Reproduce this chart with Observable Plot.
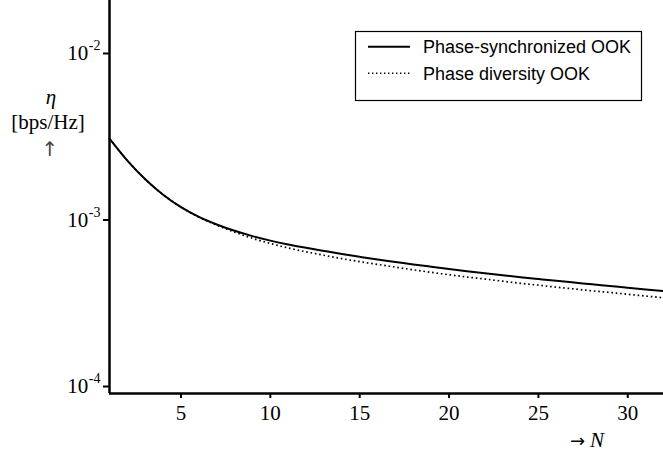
<!DOCTYPE html>
<html>
<head>
<meta charset="utf-8">
<script src="https://cdn.jsdelivr.net/npm/d3@7"></script>
<script src="https://cdn.jsdelivr.net/npm/@observablehq/plot@0.6"></script>
<style>
  html, body { margin: 0; padding: 0; background: #fff; }
  #chart svg { display: block; }
</style>
</head>
<body>
<div id="chart"></div>
<script>
// ---- data ----
const N = [1,2,3,4,5,6,7,8,9,10,11,12,13,14,15,16,17,18,19,20,21,22,23,24,25,26,27,28,29,30,31,32];
const phaseSync = [3.083e-3,2.275e-3,1.758e-3,1.419e-3,1.194e-3,1.045e-3,9.40e-4,8.61e-4,8.00e-4,7.52e-4,
  7.13e-4,6.81e-4,6.52e-4,6.25e-4,6.01e-4,5.79e-4,5.60e-4,5.41e-4,5.24e-4,5.08e-4,
  4.93e-4,4.79e-4,4.66e-4,4.535e-4,4.42e-4,4.31e-4,4.21e-4,4.11e-4,4.015e-4,3.92e-4,3.83e-4,3.745e-4];
const phaseDiv = [3.083e-3,2.275e-3,1.758e-3,1.419e-3,1.194e-3,1.042e-3,9.31e-4,8.45e-4,7.76e-4,7.23e-4,
  6.79e-4,6.44e-4,6.14e-4,5.86e-4,5.62e-4,5.41e-4,5.21e-4,5.02e-4,4.85e-4,4.69e-4,
  4.545e-4,4.42e-4,4.29e-4,4.165e-4,4.06e-4,3.95e-4,3.855e-4,3.755e-4,3.67e-4,3.58e-4,3.495e-4,3.41e-4];
const xTicks = [5,10,15,20,25,30];
const yTicks = [1e-4,1e-3,1e-2];
const yExponents = ["-4","-3","-2"];
const seriesNames = ["Phase-synchronized OOK","Phase diversity OOK"];
const xDomain = [1, 32];
const yDomain = [9.08e-5, 2.08e-2];

const syncData = N.map((n,i) => ({N:n, eta:phaseSync[i]}));
const divData = N.map((n,i) => ({N:n, eta:phaseDiv[i]}));

const serif = "'Liberation Serif', 'DejaVu Serif', serif";
const sans = "'Liberation Sans', Arial, sans-serif";
const arrowFont = "'DejaVu Sans', sans-serif";

const plot = Plot.plot({
  width: 663,
  height: 453,
  marginLeft: 109,
  marginRight: 0,
  marginTop: 0,
  marginBottom: 60,
  style: {fontSize: "20px", color: "#000", background: "#fff", overflow: "visible"},
  x: {domain: xDomain},
  y: {type: "log", domain: yDomain},
  marks: [
    Plot.axisX({ticks: xTicks, tickSize: 5, tickPadding: 7, strokeWidth: 2, fontSize: 21, label: null, tickFormat: d => String(d)}),
    Plot.axisY({ticks: yTicks, tickSize: 6, tickPadding: 3, strokeWidth: 2, fontSize: 21, label: null, tickFormat: () => "10"}),
    Plot.line(divData, {x: "N", y: "eta", stroke: "#000", strokeWidth: 1.7, strokeDasharray: "1.6,2.8", strokeLinecap: "butt", curve: "monotone-x"}),
    Plot.line(syncData, {x: "N", y: "eta", stroke: "#000", strokeWidth: 2, curve: "monotone-x"}),
    Plot.ruleX([xDomain[0]], {stroke: "#000", strokeWidth: 2.5}),
    Plot.ruleY([yDomain[0]], {stroke: "#000", strokeWidth: 2.5})
  ]
});

document.getElementById("chart").appendChild(plot);

const svg = d3.select(plot);
svg.attr("font-family", serif).style("font-family", serif);

// serif font on all tick labels
svg.selectAll('g[aria-label$="tick label"]').attr("font-family", serif).style("font-family", serif);
svg.selectAll('g[aria-label$="tick label"] text').style("font-family", serif).style("font-size", "21px");

// superscripts on y tick labels
svg.selectAll('g[aria-label="y-axis tick label"] text').each(function(d, i) {
  d3.select(this).append("tspan").attr("dy", -10).attr("dx", 0.5).style("font-size", "14px").text(yExponents[i]);
});

// y axis label
const yl = svg.append("g").style("font-family", serif).attr("fill", "#000").attr("text-anchor", "middle");
yl.append("text").attr("x", 51).attr("y", 104).style("font-size", "21px").attr("font-style", "italic").text("η");
yl.append("text").attr("x", 48).attr("y", 129).style("font-size", "21px").text("[bps/Hz]");
yl.append("text").attr("x", 50).attr("y", 156).style("font-size", "20px").style("font-family", arrowFont).attr("fill", "#444").text("↑");

// x axis label
const xl = svg.append("text").attr("x", 570).attr("y", 447).attr("text-anchor", "start")
  .style("font-family", serif).style("font-size", "21px").attr("fill", "#000");
xl.append("tspan").style("font-family", arrowFont).style("font-size", "18px").text("→");
xl.append("tspan").attr("dx", 5).attr("font-style", "italic").text("N");

// legend
const lg = svg.append("g").style("font-family", sans).style("font-size", "18px").attr("fill", "#000").attr("text-anchor", "start");
lg.append("rect").attr("x", 355.5).attr("y", 31.5).attr("width", 286).attr("height", 69)
  .attr("fill", "#fff").attr("stroke", "#000").attr("stroke-width", 1.2);
lg.append("line").attr("x1", 368).attr("x2", 410).attr("y1", 46.7).attr("y2", 46.7)
  .attr("stroke", "#000").attr("stroke-width", 2);
lg.append("line").attr("x1", 368).attr("x2", 410).attr("y1", 73.3).attr("y2", 73.3)
  .attr("stroke", "#000").attr("stroke-width", 1.5).attr("stroke-dasharray", "1.4,2.6");
lg.append("text").attr("x", 423).attr("y", 53).text(seriesNames[0]);
lg.append("text").attr("x", 423).attr("y", 79.5).text(seriesNames[1]);
</script>
</body>
</html>
